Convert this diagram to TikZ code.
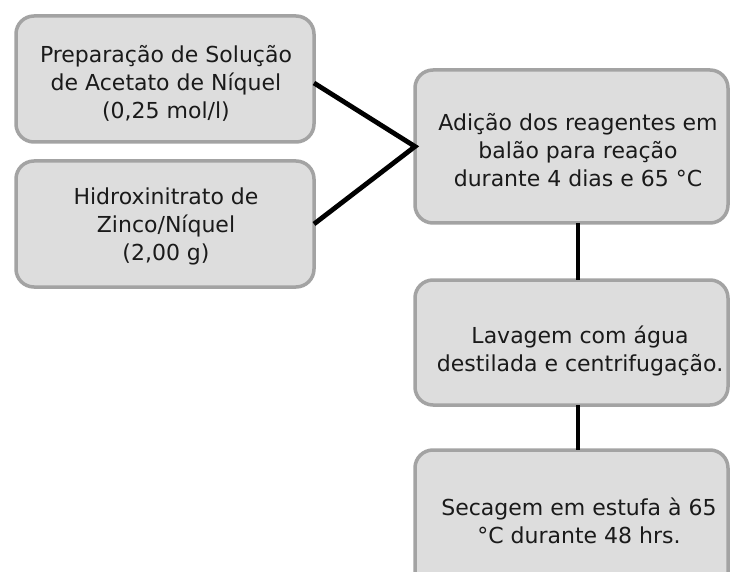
\documentclass[tikz,border=0pt]{standalone}
\usepackage{fontspec}
\setmainfont{DejaVu Sans}
\definecolor{boxfill}{HTML}{DDDDDD}
\definecolor{boxline}{HTML}{A3A3A3}
\definecolor{txtcol}{HTML}{1A1A1A}
\tikzset{
  stepbox/.style={draw=boxline, fill=boxfill, line width=3.5pt, rounded corners=18pt,
    inner sep=0pt, outer sep=0pt},
  steptext/.style={align=center, text=txtcol, inner sep=0pt,
    font=\fontsize{22}{28}\selectfont},
  link/.style={line width=4.8pt, draw=black}
}
\begin{document}
\begin{tikzpicture}[x=1pt, y=-1pt]
\useasboundingbox (0,0) rectangle (731,572);
\clip (0,0) rectangle (731,572);
\fill[white] (0,0) rectangle (731,572);
% boxes
\node[stepbox, minimum width=298pt, minimum height=126pt] (a) at (165,79) {};
\node[stepbox, minimum width=298pt, minimum height=126pt] (b) at (165,224) {};
\node[stepbox, minimum width=313pt, minimum height=153pt] (c) at (571.5,146.5) {};
\node[stepbox, minimum width=313pt, minimum height=125pt] (d) at (571.5,342.5) {};
\node[stepbox, minimum width=313pt, minimum height=150pt] (e) at (571.5,525) {};
% texts
\node[steptext] (at) at (166,83) {Preparação de Solução\\de Acetato de Níquel\\(0,25 mol/l)};
\node[steptext] (bt) at (166,226) {Hidroxinitrato de\\Zinco/Níquel\\(2,00 g)};
\node[steptext] (ct) at (578,150) {Adição dos reagentes em\\balão para reação\\durante 4 dias e 65 °C};
\node[steptext] (dt) at (580,351) {Lavagem com água\\destilada e centrifugação.};
\node[steptext] (et) at (579,521) {Secagem em estufa à 65\\°C durante 48 hrs.};
% connectors
\draw[link, line join=miter] ([yshift=-4pt]a.east) -- (c.west) -- (b.east);
\draw[link] (ct |- c.south) -- (ct |- d.north);
\draw[link] (ct |- d.south) -- (ct |- e.north);
\end{tikzpicture}
\end{document}
